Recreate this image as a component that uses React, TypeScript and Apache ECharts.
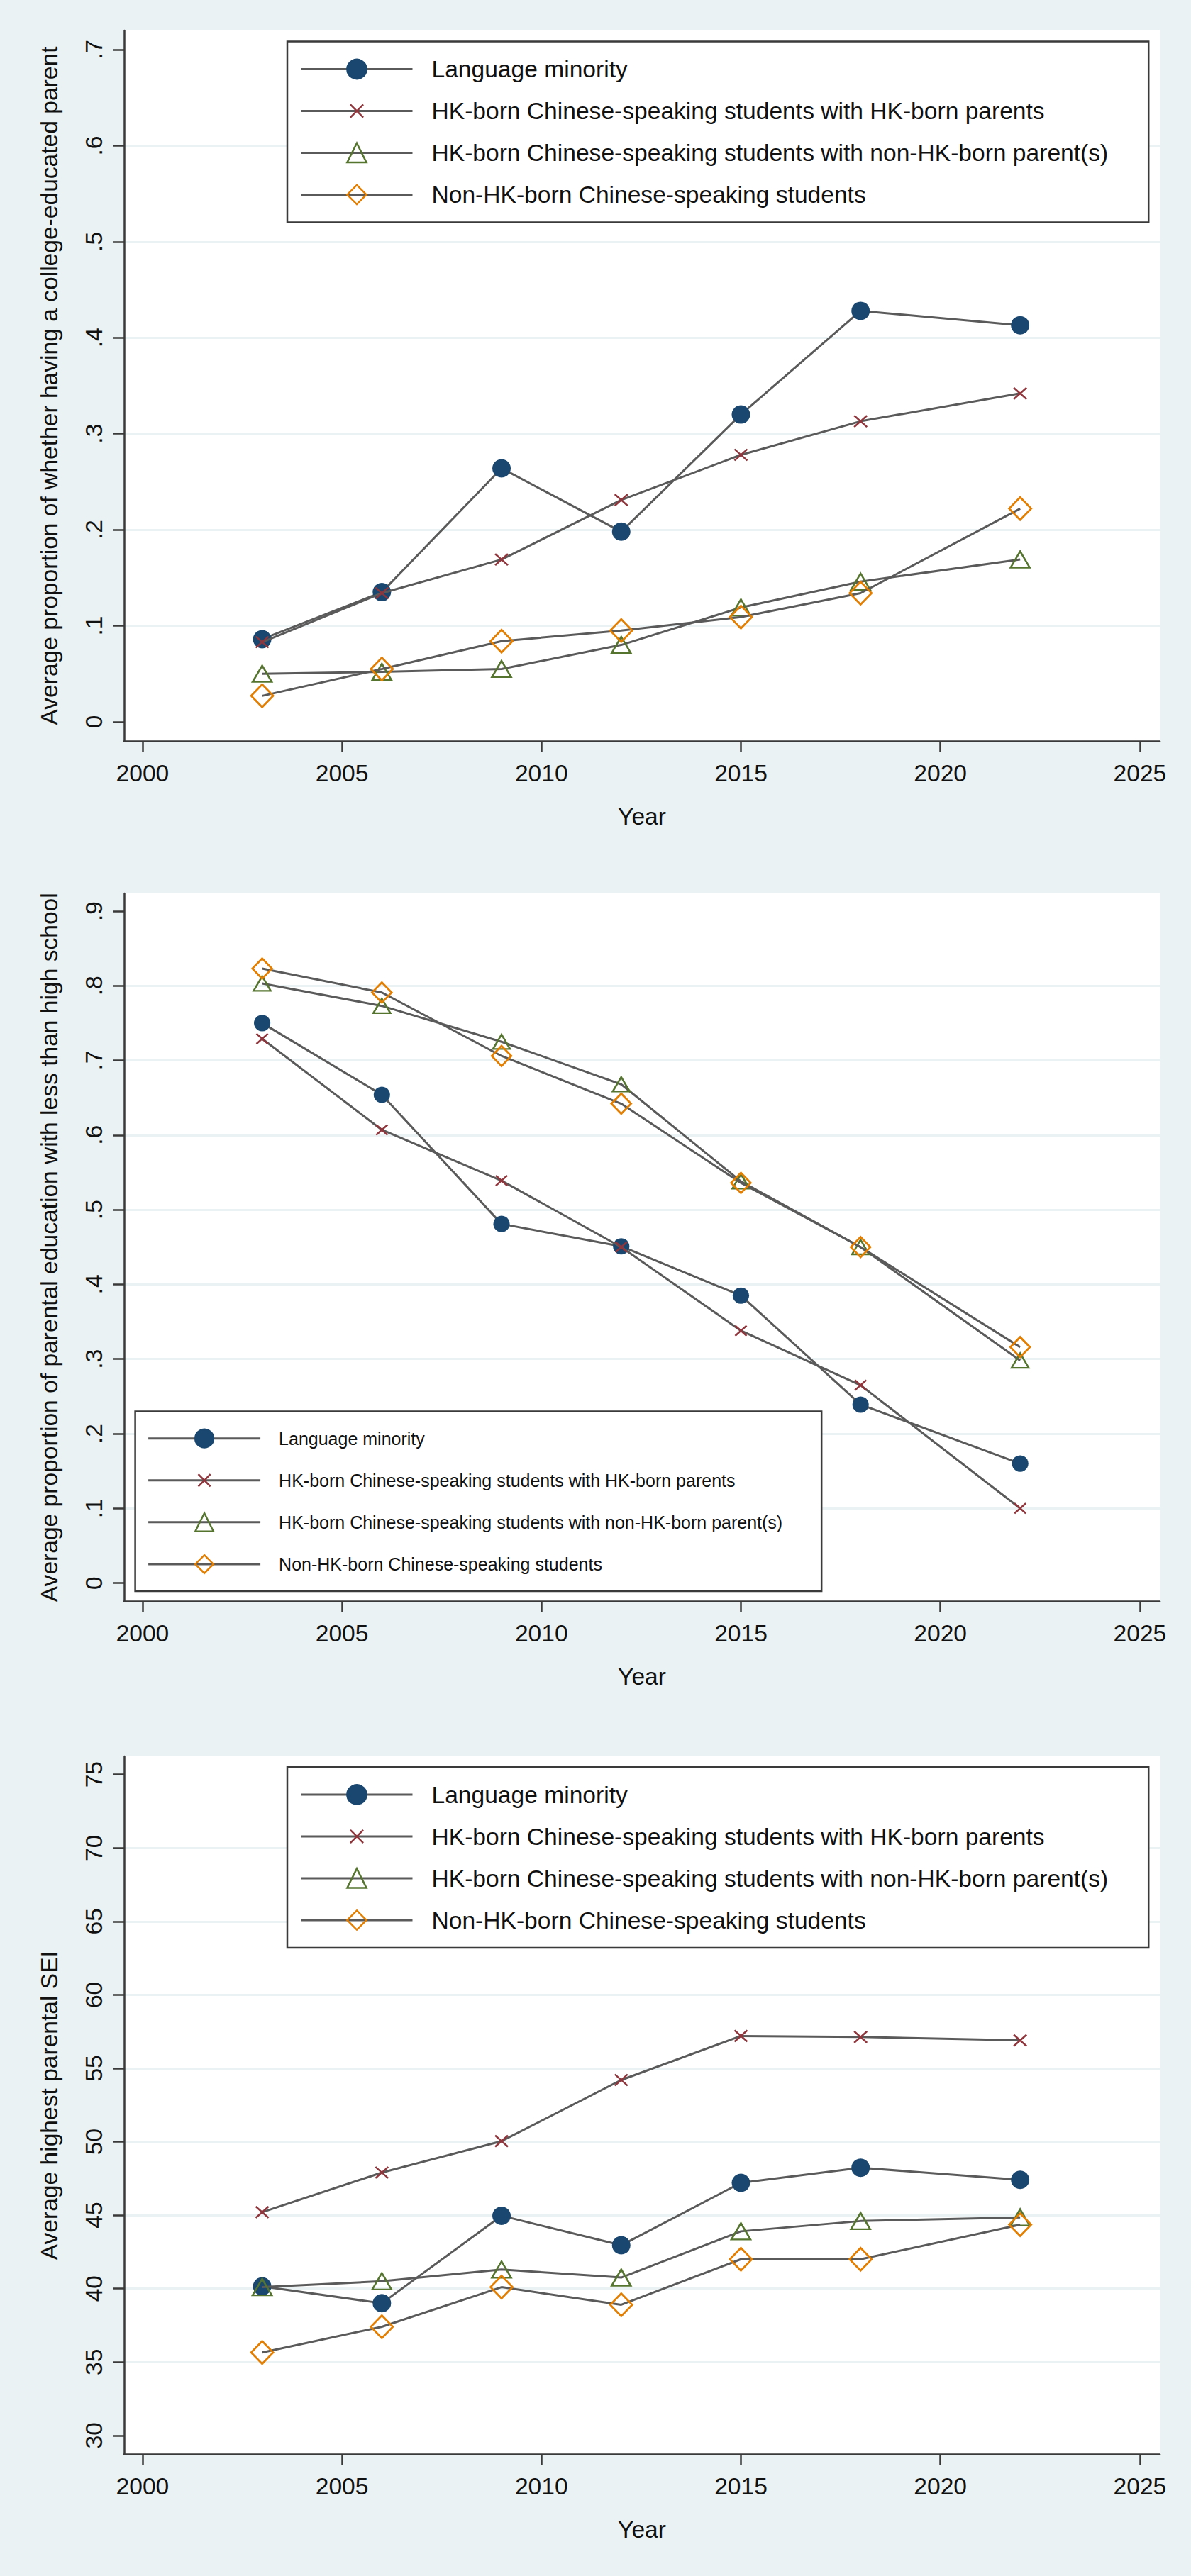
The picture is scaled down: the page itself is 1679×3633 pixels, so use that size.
import React, { useEffect, useRef } from "react";
import * as echarts from "echarts";

const years = [2003, 2006, 2009, 2012, 2015, 2018, 2022];
const seriesNames = [
  "Language minority",
  "HK-born Chinese-speaking students with HK-born parents",
  "HK-born Chinese-speaking students with non-HK-born parent(s)",
  "Non-HK-born Chinese-speaking students",
];

// Panel 1: Average proportion of whether having a college-educated parent
const collegeLangMinority = [0.086, 0.135, 0.264, 0.198, 0.32, 0.428, 0.413];
const collegeHKParents = [0.083, 0.134, 0.169, 0.231, 0.278, 0.313, 0.342];
const collegeNonHKParents = [0.05, 0.052, 0.055, 0.08, 0.119, 0.146, 0.169];
const collegeNonHKBorn = [0.027, 0.055, 0.084, 0.095, 0.109, 0.134, 0.222];

// Panel 2: Average proportion of parental education with less than high school
const lessHSLangMinority = [0.75, 0.654, 0.481, 0.451, 0.385, 0.239, 0.16];
const lessHSHKParents = [0.729, 0.607, 0.539, 0.45, 0.338, 0.265, 0.1];
const lessHSNonHKParents = [0.803, 0.773, 0.725, 0.668, 0.538, 0.45, 0.298];
const lessHSNonHKBorn = [0.823, 0.791, 0.706, 0.642, 0.536, 0.45, 0.316];

// Panel 3: Average highest parental SEI
const seiLangMinority = [40.15, 39.0, 44.96, 42.95, 47.2, 48.23, 47.41];
const seiHKParents = [45.2, 47.9, 50.04, 54.2, 57.2, 57.13, 56.9];
const seiNonHKParents = [40.1, 40.5, 41.3, 40.75, 43.9, 44.6, 44.85];
const seiNonHKBorn = [35.65, 37.4, 40.1, 38.9, 42.0, 42.0, 44.35];

const xTicks = [2000, 2005, 2010, 2015, 2020, 2025];
const collegeTicks = [0, 0.1, 0.2, 0.3, 0.4, 0.5, 0.6, 0.7];
const lessHSTicks = [0, 0.1, 0.2, 0.3, 0.4, 0.5, 0.6, 0.7, 0.8, 0.9];
const seiTicks = [30, 35, 40, 45, 50, 55, 60, 65, 70, 75];

const yTitles = [
  "Average proportion of whether having a college-educated parent",
  "Average proportion of parental education with less than high school",
  "Average highest parental SEI",
];

const FONT = "'Liberation Sans', Arial, Helvetica, sans-serif";
const BG = "#eaf2f3";
const AXIS = "#3a3a3a";
const LINE = "#5a5a5a";
const TEXT = "#111111";
const NAVY = "#1a476f";
const MAROON = "#90353b";
const GREEN = "#55752f";
const ORANGE = "#e37e00";

const X_PATH = "path://M-0.25,-0.25M1.25,1.25M0,0L1,1M1,0L0,1";

const propFmt = (v: number) => (Math.abs(v) < 1e-9 ? "0" : v.toFixed(1).replace(/^0/, ""));

export default function App() {
  const ref = useRef<HTMLDivElement>(null);

  useEffect(() => {
    if (!ref.current) return;
    const chart = echarts.init(ref.current, undefined, { renderer: "svg" });

    const panels = [
      {
        top: 43, height: 1002, ymin: -0.02, ymax: 0.72, splitNumber: 7, ticks: collegeTicks, fmt: propFmt,
        data: [collegeLangMinority, collegeHKParents, collegeNonHKParents, collegeNonHKBorn],
        big: true,
        legend: { left: 405, top: 58.5, padding: [22, 57, 22, 18], itemWidth: 157, itemHeight: 34, itemGap: 25, fontSize: 33.6, textPad: 22 },
      },
      {
        top: 1260, height: 998.5, ymin: -0.0246, ymax: 0.9237, splitNumber: 9, ticks: lessHSTicks, fmt: propFmt,
        data: [lessHSLangMinority, lessHSHKParents, lessHSNonHKParents, lessHSNonHKBorn],
        big: false,
        legend: { left: 190.6, top: 1990.6, padding: [24, 55, 24, 17], itemWidth: 158, itemHeight: 32, itemGap: 31, fontSize: 25, textPad: 21 },
      },
      {
        top: 2477, height: 984.3, ymin: 28.72, ymax: 76.24, splitNumber: 9, ticks: seiTicks, fmt: (v: number) => String(v),
        data: [seiLangMinority, seiHKParents, seiNonHKParents, seiNonHKBorn],
        big: true,
        legend: { left: 405, top: 2492, padding: [22, 57, 22, 18], itemWidth: 157, itemHeight: 34, itemGap: 25, fontSize: 33.6, textPad: 22 },
      },
    ];

    const grids: any[] = [];
    const xAxes: any[] = [];
    const yAxes: any[] = [];
    const legends: any[] = [];
    const series: any[] = [];

    panels.forEach((p, i) => {
      grids.push({
        left: 175, top: p.top, width: 1460, height: p.height,
        show: true, backgroundColor: "#ffffff", borderWidth: 0, containLabel: false,
      });
      xAxes.push({
        type: "value", gridIndex: i, min: 1999.54, max: 2025.5, splitNumber: 5,
        name: "Year", nameLocation: "middle", nameGap: 89,
        nameTextStyle: { fontFamily: FONT, fontSize: 33.6, color: TEXT },
        axisLine: { show: true, onZero: false, lineStyle: { color: AXIS, width: 2.5 } },
        axisTick: { show: true, length: 15, inside: false, customValues: xTicks, lineStyle: { color: AXIS, width: 2.5 } },
        axisLabel: { show: true, margin: 28, customValues: xTicks, fontFamily: FONT, fontSize: 33.6, color: TEXT, formatter: (v: number) => String(v) },
        splitLine: { show: false },
      });
      yAxes.push({
        type: "value", gridIndex: i, min: p.ymin, max: p.ymax, splitNumber: p.splitNumber,
        name: yTitles[i], nameLocation: "middle", nameGap: 89,
        nameTextStyle: { fontFamily: FONT, fontSize: 33.6, color: TEXT },
        axisLine: { show: true, onZero: false, lineStyle: { color: AXIS, width: 2.5 } },
        axisTick: { show: true, length: 15, inside: false, customValues: p.ticks, lineStyle: { color: AXIS, width: 2.5 } },
        axisLabel: { show: true, rotate: 90, margin: 26, customValues: p.ticks, fontFamily: FONT, fontSize: 33.6, color: TEXT, formatter: p.fmt },
        splitLine: { show: true, showMinLine: false, showMaxLine: false, lineStyle: { color: BG, width: 3 } },
      });
      const L = p.legend;
      legends.push({
        orient: "vertical", left: L.left, top: L.top, padding: L.padding,
        itemWidth: L.itemWidth, itemHeight: L.itemHeight, itemGap: L.itemGap,
        backgroundColor: "#ffffff", borderColor: AXIS, borderWidth: 2.5, borderRadius: 0,
        selectedMode: false,
        textStyle: { fontFamily: FONT, fontSize: L.fontSize, color: TEXT, padding: [0, 0, 0, L.textPad] },
        itemStyle: { borderWidth: 2.5 },
        lineStyle: { width: 3, color: LINE },
        data: seriesNames,
      });

      const s = p.big ? 1 : 0.89;
      const styles = [
        { symbol: "circle", symbolSize: 26 * s, itemStyle: { color: NAVY, borderColor: NAVY, borderWidth: 0 } },
        { symbol: X_PATH, symbolSize: [27 * s, 24 * s], itemStyle: { color: "transparent", borderColor: MAROON, borderWidth: 2.5 } },
        { symbol: "triangle", symbolSize: [27 * s, 23 * s], itemStyle: { color: "transparent", borderColor: GREEN, borderWidth: 2.5 } },
        { symbol: "diamond", symbolSize: [31 * s, 32 * s], itemStyle: { color: "transparent", borderColor: ORANGE, borderWidth: 2.8 } },
      ];
      p.data.forEach((vals, k) => {
        series.push({
          type: "line",
          name: seriesNames[k],
          xAxisIndex: i,
          yAxisIndex: i,
          data: years.map((y, j) => [y, vals[j]]),
          symbol: styles[k].symbol,
          symbolSize: styles[k].symbolSize,
          showAllSymbol: true,
          itemStyle: styles[k].itemStyle,
          lineStyle: { color: LINE, width: 3 },
          emphasis: { disabled: true },
          z: 2 + k,
        });
      });
    });

    chart.setOption({
      animation: false,
      backgroundColor: BG,
      textStyle: { fontFamily: FONT },
      grid: grids,
      xAxis: xAxes,
      yAxis: yAxes,
      legend: legends,
      series,
    });

    return () => chart.dispose();
  }, []);

  return (
    <div
      ref={ref}
      style={{ position: "absolute", left: 0, top: 0, width: 1679, height: 3633 }}
    />
  );
}
